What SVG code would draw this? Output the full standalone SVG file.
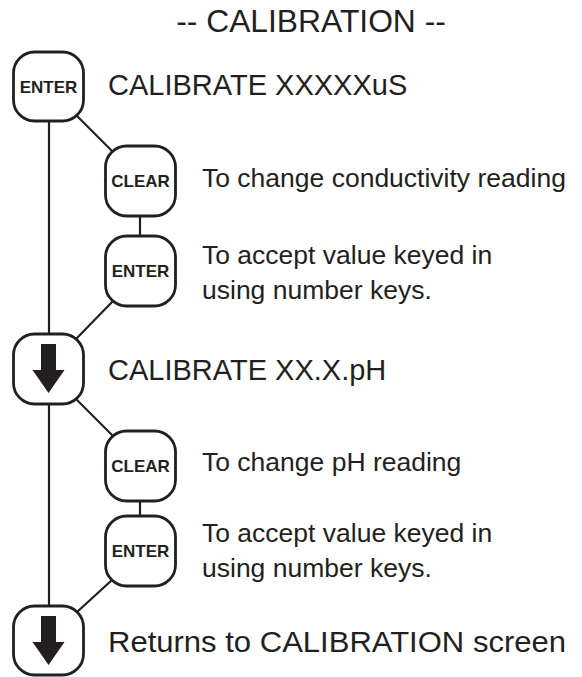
<svg xmlns="http://www.w3.org/2000/svg" width="582" height="677" viewBox="0 0 582 677">
  <defs>
    <style>
      .key { fill: #ffffff; stroke: #231f20; stroke-width: 2.8; }
      .keytxt { font-family: "Liberation Sans", Arial, sans-serif; font-weight: bold; font-size: 17px; fill: #231f20; text-anchor: middle; }
      .wire { stroke: #231f20; stroke-width: 2.2; fill: none; }
      .title { font-family: "Liberation Sans", Arial, sans-serif; font-size: 31.8px; fill: #231f20; text-anchor: middle; }
      .step { font-family: "Liberation Sans", Arial, sans-serif; font-size: 29px; fill: #231f20; }
      .note { font-family: "Liberation Sans", Arial, sans-serif; font-size: 26.5px; fill: #231f20; }
      .arrow { fill: #231f20; }
    </style>
    <path id="down" class="arrow" d="M41,10 H56 V36 H64.5 L48.5,59 L32.5,36 H41 Z"/>
  </defs>

  <rect width="582" height="677" fill="#ffffff"/>

  <text class="title" x="311" y="32">-- CALIBRATION --</text>

  <!-- connectors -->
  <g id="connectors">
    <line class="wire" x1="49" y1="120" x2="49" y2="335"/>
    <line class="wire" x1="49" y1="403" x2="49" y2="607"/>
    <line class="wire" x1="77" y1="116" x2="113" y2="152"/>
    <line class="wire" x1="140" y1="215" x2="140" y2="237"/>
    <line class="wire" x1="113" y1="301" x2="76" y2="339"/>
    <line class="wire" x1="76" y1="399" x2="113" y2="436"/>
    <line class="wire" x1="140" y1="500" x2="140" y2="517"/>
    <line class="wire" x1="112" y1="580" x2="77" y2="612"/>
  </g>

  <g id="enter1">
    <rect class="key" x="13.5" y="52" width="70" height="69" rx="21"/>
    <text class="keytxt" x="48.5" y="92.5">ENTER</text>
  </g>
  <text class="step" x="108" y="95">CALIBRATE XXXXXuS</text>

  <g id="clear1">
    <rect class="key" x="105.5" y="146" width="70" height="70" rx="21"/>
    <text class="keytxt" x="140.5" y="187">CLEAR</text>
  </g>
  <text class="note" x="202" y="187">To change conductivity reading</text>

  <g id="enter2">
    <rect class="key" x="105.5" y="236" width="70" height="70" rx="21"/>
    <text class="keytxt" x="140.5" y="277">ENTER</text>
  </g>
  <text class="note" x="202" y="264">To accept value keyed in</text>
  <text class="note" x="202" y="299">using number keys.</text>

  <g id="next1">
    <rect class="key" x="13.5" y="334" width="70" height="70" rx="21"/>
    <use href="#down" y="334"/>
  </g>
  <text class="step" x="108" y="380">CALIBRATE XX.X.pH</text>

  <g id="clear2">
    <rect class="key" x="105.5" y="431" width="70" height="70" rx="21"/>
    <text class="keytxt" x="140.5" y="472">CLEAR</text>
  </g>
  <text class="note" x="202" y="471">To change pH reading</text>

  <g id="enter3">
    <rect class="key" x="105.5" y="516" width="70" height="70" rx="21"/>
    <text class="keytxt" x="140.5" y="557">ENTER</text>
  </g>
  <text class="note" x="202" y="542">To accept value keyed in</text>
  <text class="note" x="202" y="577">using number keys.</text>

  <g id="next2">
    <rect class="key" x="13.5" y="606" width="70" height="69" rx="21"/>
    <use href="#down" y="606"/>
  </g>
  <text class="step" x="108" y="652" textLength="458" lengthAdjust="spacingAndGlyphs">Returns to CALIBRATION screen</text>
</svg>
